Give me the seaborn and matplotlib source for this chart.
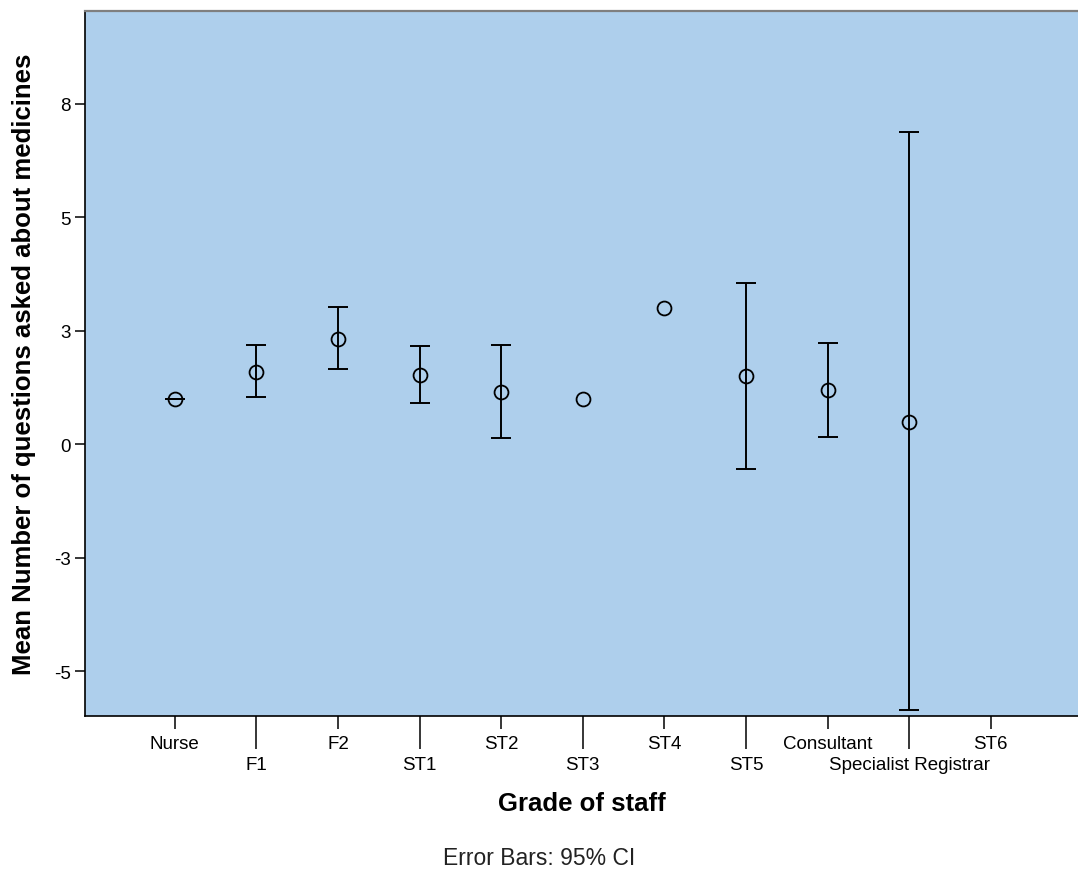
import numpy as np
import matplotlib
matplotlib.use("Agg")
import matplotlib.pyplot as plt
import seaborn as sns

# grades of staff, in plotting order (ST6 has no data)
grades = ['Nurse', 'F1', 'F2', 'ST1', 'ST2', 'ST3', 'ST4', 'ST5',
          'Consultant', 'Specialist Registrar', 'ST6']
means = [1.0, 1.6, 2.33, 1.52, 1.16, 1.0, 3.0, 1.5, 1.2, 0.5, np.nan]
ci_low = [1.0, 1.05, 1.66, 0.9, 0.13, np.nan, np.nan, -0.55, 0.17, -5.85, np.nan]
ci_high = [1.0, 2.19, 3.02, 2.16, 2.19, np.nan, np.nan, 3.56, 2.24, 6.87, np.nan]

ytick_vals = [-5, -2.5, 0, 2.5, 5, 7.5]
ytick_labels = ['-5', '-3', '0', '3', '5', '8']

sns.set_style("white")
plt.rcParams['font.family'] = ['Liberation Sans', 'DejaVu Sans']
plt.rcParams.update({'text.color': 'black', 'axes.labelcolor': 'black',
                     'xtick.color': 'black', 'ytick.color': 'black'})

fig = plt.figure(figsize=(10.78, 8.7), dpi=100)
ax = fig.add_axes([85 / 1078, 1 - 717 / 870, 993 / 1078, 705 / 870])
ax.set_facecolor('#aecfec')

sns.pointplot(x=grades, y=means, order=grades, linestyle='none',
              errorbar=None, marker='o', color='black',
              markerfacecolor='none', markeredgecolor='black',
              markersize=10, markeredgewidth=1.3, ax=ax)

m = np.array(means)
lo = np.array(ci_low)
hi = np.array(ci_high)
pos = np.arange(len(grades))
ax.errorbar(pos, m, yerr=[m - lo, hi - m], fmt='none', ecolor='black',
            elinewidth=1.4, capsize=7.5, capthick=1.4)

ax.set_xlim(-1.1, 11.07)
ax.set_ylim(-5.98, 9.54)
ax.set_yticks(ytick_vals)
ax.set_yticklabels(ytick_labels, fontsize=13.5)

# alternate labels on two rows
ax.set_xticks(pos[::2])
ax.set_xticklabels(grades[::2], fontsize=13.5)
ax.set_xticks(pos[1::2], minor=True)
ax.set_xticklabels(grades[1::2], minor=True, fontsize=13.5)
ax.tick_params(axis='x', which='major', length=9, width=1.1, pad=4.5,
               bottom=True, color='black')
ax.tick_params(axis='x', which='minor', length=23.5, width=1.1, pad=5.5,
               bottom=True, color='black')
ax.tick_params(axis='y', length=7, width=1.1, pad=3, left=True, color='black')

for side in ['left', 'bottom']:
    ax.spines[side].set_color('black')
    ax.spines[side].set_linewidth(1.2)
ax.spines['top'].set_color('#7f7f7f')
ax.spines['top'].set_linewidth(1.6)
ax.spines['right'].set_visible(False)

ax.set_xlabel('Grade of staff', fontsize=18.5, fontweight='bold', va='center')
ax.xaxis.set_label_coords(0.5, -0.1234)
ax.set_ylabel('Mean Number of questions asked about medicines', fontsize=18.5,
              fontweight='bold', va='center')
ax.yaxis.set_label_coords(-0.0615, 0.5)

fig.text(539 / 1078, 1 - 859 / 870, 'Error Bars: 95% CI', fontsize=16.5,
         ha='center', va='center', color='#222222')

fig.savefig('out.png', dpi=100, facecolor='white')
